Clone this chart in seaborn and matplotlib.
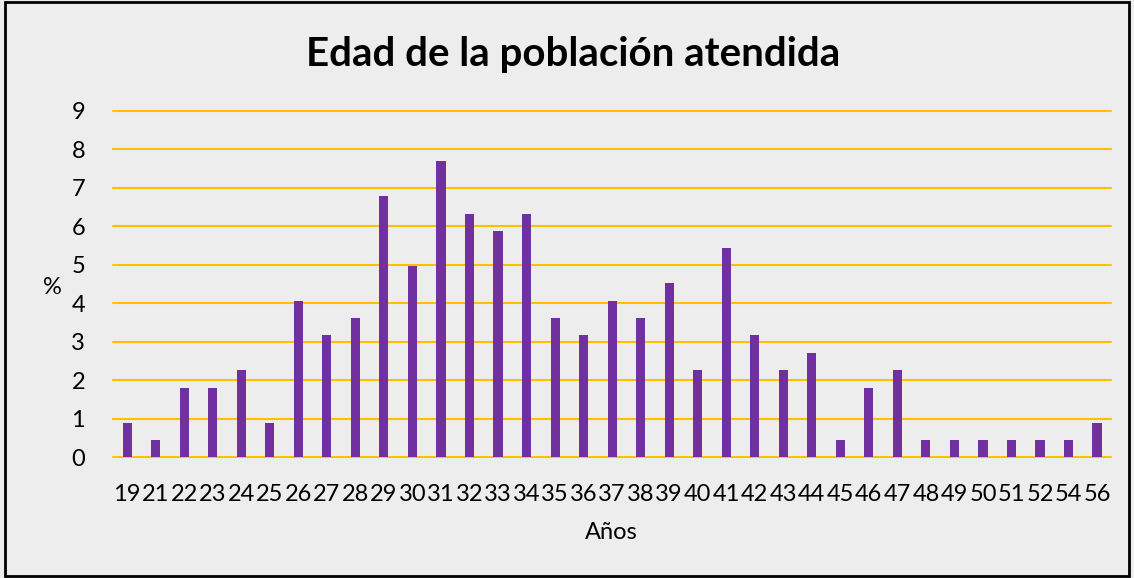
import matplotlib
matplotlib.use("Agg")
import matplotlib.pyplot as plt
import pandas as pd
import seaborn as sns

# ages and share of attended population (%)
ages = ["19", "21", "22", "23", "24", "25", "26", "27", "28", "29", "30", "31",
        "32", "33", "34", "35", "36", "37", "38", "39", "40", "41", "42", "43",
        "44", "45", "46", "47", "48", "49", "50", "51", "52", "54", "56"]
percent = [0.90, 0.45, 1.81, 1.81, 2.26, 0.90, 4.07, 3.17, 3.62, 6.79, 4.98, 7.69,
           6.33, 5.88, 6.33, 3.62, 3.17, 4.07, 3.62, 4.52, 2.26, 5.43, 3.17, 2.26,
           2.71, 0.45, 1.81, 2.26, 0.45, 0.45, 0.45, 0.45, 0.45, 0.45, 0.90]
y_ticks = list(range(0, 10))

df = pd.DataFrame({"edad": ages, "pct": percent})

sns.set_style("white")
plt.rcParams["font.family"] = ["Lato", "DejaVu Sans"]
plt.rcParams["text.color"] = "black"

bg = "#EDEDED"
fig = plt.figure(figsize=(11.34, 5.78), dpi=100, facecolor=bg)
ax = fig.add_axes([0.0996, 0.209, 0.8804, 0.599])
ax.set_facecolor(bg)

sns.barplot(data=df, x="edad", y="pct", color="#7030A0", width=0.32,
            saturation=1, linewidth=0, ax=ax, zorder=3)

ax.set_ylim(0, 9)
ax.set_xlim(-0.5, len(ages) - 0.5)
ax.set_yticks(y_ticks)
ax.yaxis.grid(True, color="#FFC000", linewidth=1.5, zorder=0)
for gl in ax.yaxis.get_gridlines():
    gl.set_clip_on(False)
ax.set_axisbelow(True)
for s in ax.spines.values():
    s.set_visible(False)
ax.tick_params(axis="both", length=0, labelsize=17, colors="black")
ax.tick_params(axis="x", pad=19)
ax.tick_params(axis="y", pad=20)

ax.set_xlabel("")
ax.set_ylabel("")
fig.text(0.539, 0.078, "Años", ha="center", va="center", fontsize=17)
fig.text(0.046, 0.503, "%", ha="center", va="center", fontsize=17)

fig.text(0.505, 0.905, "Edad de la población atendida", ha="center",
         va="center", fontsize=29, fontweight="bold")

# outer frame
fig.patches.append(plt.Rectangle((0.004, 0.004), 0.992, 0.992,
                                 transform=fig.transFigure, fill=False,
                                 edgecolor="black", linewidth=2))

fig.savefig("out.png", dpi=100, facecolor=bg)
